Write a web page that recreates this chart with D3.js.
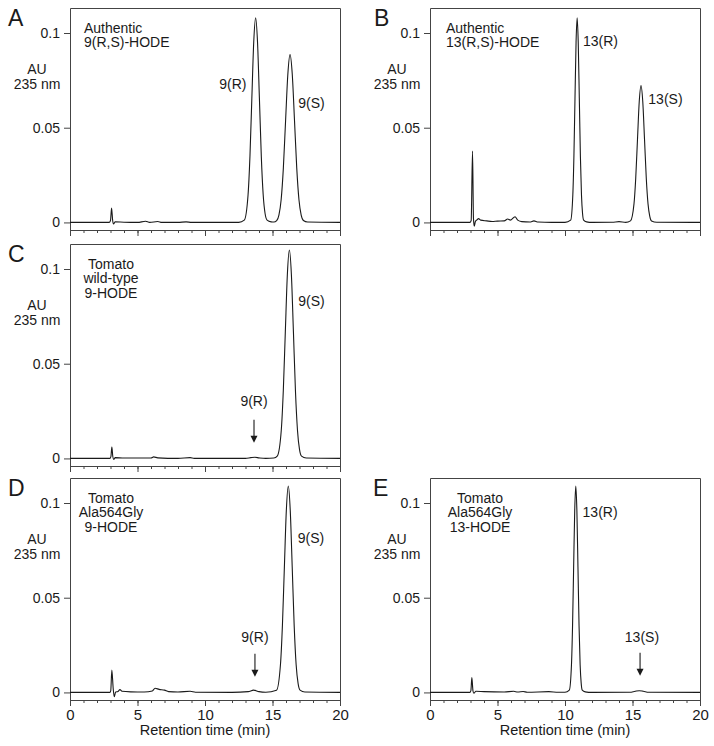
<!DOCTYPE html>
<html>
<head>
<meta charset="utf-8">
<script src="https://cdn.jsdelivr.net/npm/d3@7"></script>
<style>
  body { margin: 0; background: #fff; }
  svg text { font-family: 'Liberation Sans', Arial, sans-serif; fill: #1a1a1a; }
</style>
</head>
<body>
<script>
// retention time (min), absorbance (AU)
const traceA = [[0, 0], [2.9, 0], [3.0, 0.001], [3.08, 0.0076], [3.16, 0.001], [3.22, -0.0008], [3.35, 0.0003], [4, 0.0001],
    [5, 0], [5.6, 0.0006], [5.9, 0], [6.5, 0.0005], [6.8, 0], [8, 0], [8.6, 0.0003], [9, 0], [12.5, 0],
    [12.91, 0.0012], [13.19, 0.0146], [13.33, 0.035], [13.47, 0.0656], [13.61, 0.0952], [13.75, 0.108], [13.89, 0.0952],
    [14.03, 0.0656], [14.17, 0.035], [14.31, 0.0146], [14.45, 0.0047], [14.6, 0.0012], [14.9, 0.0003], [15.1, 0.0002],
    [15.31, 0.001], [15.475, 0.0039], [15.64, 0.012], [15.805, 0.0288], [15.97, 0.0538], [16.135, 0.0781], [16.3, 0.0886],
    [16.465, 0.0781], [16.63, 0.0538], [16.795, 0.0288], [16.96, 0.012], [17.125, 0.0039], [17.29, 0.001], [17.6, 0.0002], [20, 0]]

const traceB = [[0, 0], [2.95, 0], [3.05, 0.001], [3.15, 0.0377], [3.22, 0.002], [3.28, -0.002], [3.36, 0.0005], [3.5, 0.0015],
    [3.6, 0.002], [3.75, 0.0012], [4.2, 0.0008], [4.6, 0.0005], [5, 0.0007], [5.5, 0.0008], [5.75, 0.0018], [5.95, 0.0012],
    [6.3, 0.003], [6.5, 0.0012], [6.8, 0.0004], [7.4, 0.0002], [7.7, 0.0008], [8, 0.0002], [9, 0], [10, 0],
    [10.42, 0.0012], [10.58, 0.0146], [10.66, 0.035], [10.74, 0.0656], [10.82, 0.0952], [10.9, 0.108], [10.98, 0.0952],
    [11.06, 0.0656], [11.14, 0.035], [11.22, 0.0146], [11.3, 0.0047], [11.38, 0.0012], [11.6, 0.0003], [12, 0],
    [13.5, 0.0001], [14, 0.0004], [14.5, 0],
    [14.85, 0.0008], [15.11, 0.0098], [15.24, 0.0235], [15.37, 0.0439], [15.5, 0.0638], [15.63, 0.0723], [15.76, 0.0638],
    [15.89, 0.0439], [16.02, 0.0235], [16.15, 0.0098], [16.28, 0.0032], [16.41, 0.0008], [16.8, 0.0001], [20, 0]]

const traceC = [[0, 0], [2.95, 0], [3.03, 0.001], [3.1, 0.006], [3.17, 0.001], [3.24, -0.0006], [3.35, 0.0004], [4, 0.0002],
    [6, 0.0002], [6.2, 0.0008], [6.5, 0.0003], [8, 0], [8.9, 0.0004], [9.2, 0], [13, 0], [13.4, 0.0004], [13.7, 0.0006],
    [14, 0.0003], [14.5, 0], [15.1, 0.0002],
    [15.35, 0.0012], [15.65, 0.0149], [15.8, 0.0357], [15.95, 0.0668], [16.1, 0.097], [16.25, 0.11], [16.4, 0.097],
    [16.55, 0.0668], [16.7, 0.0357], [16.85, 0.0149], [17.0, 0.0048], [17.15, 0.0012], [17.5, 0.0002], [20, 0]]

const traceD = [[0, 0], [2.95, 0], [3.02, 0.001], [3.1, 0.0118], [3.2, 0.002], [3.28, -0.0023], [3.38, 0.0002], [3.55, 0.0005],
    [3.7, 0.0015], [3.85, 0.0006], [4.5, 0.0003], [5.5, 0.0002], [6.1, 0.0008], [6.3, 0.0022], [6.6, 0.0016], [7.0, 0.0012],
    [7.3, 0.0004], [8, 0.0002], [8.9, 0.0006], [9.3, 0.0001], [12, 0], [13.2, 0.0004], [13.6, 0.0012], [14, 0.0004], [14.5, 0.0001],
    [15.3, 0.0012], [15.59, 0.0147], [15.735, 0.0354], [15.88, 0.0662], [16.025, 0.0961], [16.17, 0.109], [16.315, 0.0961],
    [16.46, 0.0662], [16.605, 0.0354], [16.75, 0.0147], [16.895, 0.0048], [17.04, 0.0012], [17.4, 0.0002], [20, 0]]

const traceE = [[0, 0], [2.95, 0], [3.03, 0.001], [3.1, 0.0079], [3.18, 0.001], [3.25, -0.0004], [3.4, 0.0006], [4, 0.0004],
    [5.5, 0.0002], [6.2, 0.0006], [6.5, 0.0002], [6.9, 0.0005], [7.2, 0.0001], [8.8, 0.0004], [9.5, 0.0001], [10, 0.0001],
    [10.32, 0.0012], [10.48, 0.0147], [10.56, 0.0354], [10.64, 0.0662], [10.72, 0.0961], [10.8, 0.109], [10.88, 0.0961],
    [10.96, 0.0662], [11.04, 0.0354], [11.12, 0.0147], [11.2, 0.0048], [11.28, 0.0012], [11.5, 0.0003], [12, 0],
    [14.8, 0.0001], [15.2, 0.0006], [15.5, 0.0009], [15.8, 0.0006], [16.2, 0.0001], [20, 0]]

const panelLetters = ['A', 'B', 'C', 'D', 'E']
const panelNotes = [
    ['Authentic', '9(R,S)-HODE'],
    ['Authentic', '13(R,S)-HODE'],
    ['Tomato', 'wild-type', '9-HODE'],
    ['Tomato', 'Ala564Gly', '9-HODE'],
    ['Tomato', 'Ala564Gly', '13-HODE']
]
// [label, time, AU]
const peakLabels = [
    [['9(R)', 12.07, 0.0703], ['9(S)', 17.89, 0.0603]],
    [['13(R)', 12.63, 0.0933], ['13(S)', 17.44, 0.0627]],
    [['9(S)', 17.89, 0.0804], ['9(R)', 13.63, 0.0278]],
    [['9(S)', 17.85, 0.079], ['9(R)', 13.7, 0.0268]],
    [['13(R)', 12.6, 0.0928], ['13(S)', 15.7, 0.0268]]
]
// [time, AU start, AU tip]
const arrowMarks = [[], [], [[13.63, 0.0204, 0.0083]], [[13.7, 0.0204, 0.0083]], [[15.56, 0.0209, 0.0088]]]

const timeTicks = [0, 5, 10, 15, 20]
const auTicks = [0, 0.05, 0.1]
const auTickLabels = ['0', '0.05', '0.1']
const yTitle = ['AU', '235 nm']
const xTitle = 'Retention time (min)'

const traces = [traceA, traceB, traceC, traceD, traceE]

var svg = d3.select('body').append('svg')
    .attr('width', 714)
    .attr('height', 746)

// panel boxes: left edge, top edge, letter x, notes x, notes anchor, bottom row?
var boxes = [
    {left: 70, top: 8, letterX: 8, noteX: 84, anchor: 'start', bottom: false},
    {left: 430, top: 8, letterX: 374, noteX: 446, anchor: 'start', bottom: false},
    {left: 70, top: 244, letterX: 8, noteX: 111, anchor: 'middle', bottom: false},
    {left: 70, top: 478, letterX: 8, noteX: 111, anchor: 'middle', bottom: true},
    {left: 430, top: 478, letterX: 373, noteX: 480, anchor: 'middle', bottom: true}
]

function Chromatogram(i) {
    this.i = i
    this.box = boxes[i]
    this.w = 270
    this.h = 222
    this.draw()
}

Chromatogram.prototype.draw = function () {
    var b = this.box
    var g = svg.append('g')
    var axisY = b.top + this.h

    var x = d3.scaleLinear().domain([0, 20]).range([b.left, b.left + this.w])
    var y = d3.scaleLinear().domain([-0.004, 0.1132]).range([axisY, b.top])

    // frame (top, left, right)
    g.append('path')
        .attr('d', `M${b.left + 0.5},${axisY}V${b.top + 0.5}H${b.left + this.w + 0.5}V${axisY}`)
        .attr('fill', 'none')
        .attr('stroke', '#444')
        .attr('stroke-width', 1)

    var minor = g.append('g')
        .attr('transform', `translate(0, ${axisY})`)
        .call(d3.axisBottom(x).tickValues(d3.range(0, 21, 1)).tickSize(3).tickSizeOuter(0).tickFormat(''))
    minor.select('.domain').attr('stroke', '#444')
    minor.selectAll('.tick line').attr('stroke', '#444')

    var major = g.append('g')
        .attr('transform', `translate(0, ${axisY})`)
        .call(d3.axisBottom(x).tickValues(timeTicks).tickSize(6).tickSizeOuter(0).tickPadding(3)
            .tickFormat(b.bottom ? d3.format('d') : ''))
    major.select('.domain').remove()
    major.selectAll('.tick line').attr('stroke', '#444')
    major.selectAll('text').attr('font-size', 15).attr('fill', '#1a1a1a')

    var yAx = g.append('g')
        .attr('transform', `translate(${b.left}, 0)`)
        .call(d3.axisLeft(y).tickValues(auTicks).tickSize(6).tickPadding(4)
            .tickFormat((d, k) => auTickLabels[k]))
    yAx.select('.domain').remove()
    yAx.selectAll('.tick line').attr('stroke', '#444')
    yAx.selectAll('text').attr('font-size', 14).attr('fill', '#1a1a1a')

    g.selectAll('text.ytitle')
        .data(yTitle)
        .join('text')
            .attr('class', 'ytitle')
            .text(d => d)
            .attr('x', b.left - 33)
            .attr('y', (d, k) => b.top + 66 + k * 14.5)
            .attr('text-anchor', 'middle')
            .attr('font-size', 14)

    if (b.bottom) {
        g.append('text')
            .text(xTitle)
            .attr('x', b.left + this.w / 2)
            .attr('y', axisY + 35)
            .attr('text-anchor', 'middle')
            .attr('font-size', 14.5)
    }

    g.append('text')
        .text(panelLetters[this.i])
        .attr('x', b.letterX)
        .attr('y', b.top + 18)
        .attr('font-size', 23)

    g.selectAll('text.note')
        .data(panelNotes[this.i])
        .join('text')
            .attr('class', 'note')
            .text(d => d)
            .attr('x', b.noteX)
            .attr('y', (d, k) => b.top + 24.5 + k * 14.5)
            .attr('text-anchor', b.anchor)
            .attr('font-size', 14)

    var line = d3.line()
        .x(d => x(d[0]))
        .y(d => y(d[1]))
        .curve(d3.curveMonotoneX)

    g.append('path')
        .datum(traces[this.i])
        .attr('d', line)
        .attr('fill', 'none')
        .attr('stroke', '#1a1a1a')
        .attr('stroke-width', 1.1)
        .attr('stroke-linejoin', 'round')

    g.selectAll('text.peak')
        .data(peakLabels[this.i])
        .join('text')
            .attr('class', 'peak')
            .text(d => d[0])
            .attr('x', d => x(d[1]))
            .attr('y', d => y(d[2]))
            .attr('text-anchor', 'middle')
            .attr('font-size', 14)

    g.selectAll('line.arrow')
        .data(arrowMarks[this.i])
        .join('line')
            .attr('class', 'arrow')
            .attr('x1', d => x(d[0]))
            .attr('x2', d => x(d[0]))
            .attr('y1', d => y(d[1]))
            .attr('y2', d => y(d[2]) - 5)
            .attr('stroke', '#1a1a1a')
            .attr('stroke-width', 1.1)

    g.selectAll('path.head')
        .data(arrowMarks[this.i])
        .join('path')
            .attr('class', 'head')
            .attr('d', d => `M${x(d[0]) - 3.5},${y(d[2]) - 7}L${x(d[0]) + 3.5},${y(d[2]) - 7}L${x(d[0])},${y(d[2])}Z`)
            .attr('fill', '#1a1a1a')
}

for (let i = 0; i < traces.length; i++) {
    new Chromatogram(i)
}
</script>
</body>
</html>
